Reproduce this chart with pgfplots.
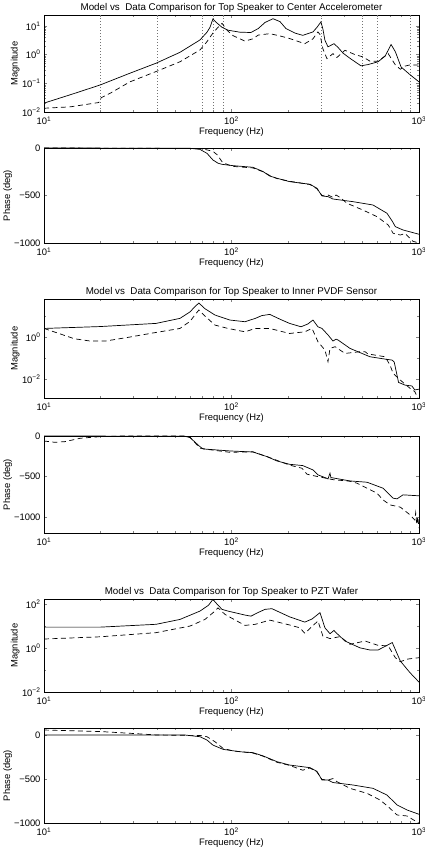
\documentclass[border=0pt]{standalone}
\usepackage{fontspec}
\setmainfont{Liberation Sans}
\usepackage{pgfplots}
\pgfplotsset{compat=1.18}

\begin{document}
\begin{tikzpicture}
\path[use as bounding box] (0,0) rectangle (425pt,848pt);

% ---------- Plot 1: magnitude, center accelerometer
\begin{axis}[scale only axis, width=375pt, height=97pt, anchor=south west, at={(44pt,736pt)},
  xmode=log, ymode=log, xmin=10, xmax=1000, ymin=0.01, ymax=24,
  xtick={10,100,1000},
  xticklabels={10\textsuperscript{1},10\textsuperscript{2},10\textsuperscript{3}},
  ytick={0.01,0.1,1,10},
  yticklabels={10\textsuperscript{−2},10\textsuperscript{−1},10\textsuperscript{0},10\textsuperscript{1}},
  xlabel={Frequency (Hz)}, ylabel={Magnitude},
  ylabel style={at={(axis description cs:-0.077,0.5)}, anchor=center},
  tick align=inside, major tick length=3pt, minor tick length=1.6pt,
  axis line style={line width=0.6pt},
  font=\fontsize{9.4}{11}\selectfont,
  title style={font=\fontsize{9.8}{11}\selectfont, yshift=-7pt},
  xticklabel style={yshift=-1pt}, xlabel style={yshift=4pt},
  title={Model vs\ \ Data Comparison for Top Speaker to Center Accelerometer},
]
\addplot[black!55, dash pattern=on 0.6pt off 2.4pt, line width=0.5pt, forget plot] coordinates {(20,0.01) (20,24)};
\addplot[black!55, dash pattern=on 0.6pt off 2.4pt, line width=0.5pt, forget plot] coordinates {(40,0.01) (40,24)};
\addplot[black!55, dash pattern=on 0.6pt off 2.4pt, line width=0.5pt, forget plot] coordinates {(70,0.01) (70,24)};
\addplot[black!55, dash pattern=on 0.6pt off 2.4pt, line width=0.5pt, forget plot] coordinates {(80,0.01) (80,24)};
\addplot[black!55, dash pattern=on 0.6pt off 2.4pt, line width=0.5pt, forget plot] coordinates {(90,0.01) (90,24)};
\addplot[black!55, dash pattern=on 0.6pt off 2.4pt, line width=0.5pt, forget plot] coordinates {(300,0.01) (300,24)};
\addplot[black!55, dash pattern=on 0.6pt off 2.4pt, line width=0.5pt, forget plot] coordinates {(500,0.01) (500,24)};
\addplot[black!55, dash pattern=on 0.6pt off 2.4pt, line width=0.5pt, forget plot] coordinates {(600,0.01) (600,24)};
\addplot[black!55, dash pattern=on 0.6pt off 2.4pt, line width=0.5pt, forget plot] coordinates {(900,0.01) (900,24)};
\addplot[black, line width=0.7pt] table {
10    0.0204
13.8  0.0398
19.9  0.0871
28.7  0.224
39.6  0.501
53.1  1.20
67.9  3.24
74.0  6.03
76.8  8.91
79.6  17.4
83.7  12.6
89.0  8.91
95.8  7.08
111   6.03
127   5.89
139   8.13
151   13.2
166.5 17.8
181.4 14.1
195   8.13
218   5.62
240   4.68
272   6.17
285.6 8.91
300   13.8
307   7.94
315   3.16
327   1.86
352   2.40
370   1.78
393.6 1.12
428.6 0.741
490   0.407
533   0.447
605   0.562
660   0.891
710   2.24
748   1.26
802   0.372
895   0.200
1000  0.112
};
\addplot[black, line width=0.7pt, dash pattern=on 5pt off 3.5pt] table {
10    0.0135
13.8  0.0151
19.6  0.0214
20.2  0.0316
22.5  0.0447
28.7  0.112
39.6  0.257
53.1  0.562
67.9  1.45
74.0  2.82
79.6  5.62
84.7  8.91
89.0  12.3
94.6  7.08
101.9 4.57
118   2.95
130   3.55
139   4.79
160   5.37
181.4 4.47
204   3.63
246   2.40
272   3.55
289   6.17
296.5 5.01
307   1.62
322.8 0.724
347.7 1.08
365   0.794
402.9 1.41
455.6 1.0
502   0.832
547.7 0.589
605   0.589
685   1.08
748   0.437
795   0.309
843   0.398
895   0.437
1000  0.437
};
\end{axis}

% ---------- Plot 2: phase, center accelerometer
\begin{axis}[scale only axis, width=375pt, height=95pt, anchor=south west, at={(44pt,605pt)},
  xmode=log, xmin=10, xmax=1000, ymin=-1000, ymax=0,
  xtick={10,100,1000},
  xticklabels={10\textsuperscript{1},10\textsuperscript{2},10\textsuperscript{3}},
  ytick={-1000,-500,0}, yticklabels={−1000,−500,0},
  xlabel={Frequency (Hz)}, ylabel={Phase (deg)},
  ylabel style={at={(axis description cs:-0.097,0.5)}, anchor=center},
  tick align=inside, major tick length=3pt, minor tick length=1.6pt,
  axis line style={line width=0.6pt},
  font=\fontsize{9.4}{11}\selectfont,
  xticklabel style={yshift=-1pt}, xlabel style={yshift=4pt},
]
\addplot[black, line width=0.7pt] table {
10    0
60.1  -3
67.9  -15
74.0  -56
79.6  -126
84.7  -160
89.0  -172
101.9 -186
130   -203
147.3 -248
160   -295
174.9 -319
204   -354
262.4 -382
285.6 -424
303.8 -505
327.1 -512
347.7 -537
444.5 -565
568.2 -600
674.9 -687
720   -770
748   -828
821.8 -863
1000  -908
};
\addplot[black, line width=0.7pt, dash pattern=on 5pt off 3.5pt] table {
10    0
67.9  -5
74.0  -20
79.6  -35
83.7  -70
89.0  -144
94.6  -172
101.9 -194
130   -210
147.3 -250
160   -290
174.9 -322
204   -350
262.4 -385
285.6 -430
303.8 -500
327.1 -495
347.7 -520
360.9 -495
379.4 -520
413   -582
502   -653
597.3 -723
685   -810
728   -898
795   -916
843   -900
928.6 -982
1000  -1000
};
\end{axis}

% ---------- Plot 3: magnitude, inner PVDF
\begin{axis}[scale only axis, width=375pt, height=99pt, anchor=south west, at={(44pt,450pt)},
  xmode=log, ymode=log, xmin=10, xmax=1000, ymin=0.00125, ymax=65,
  xtick={10,100,1000},
  xticklabels={10\textsuperscript{1},10\textsuperscript{2},10\textsuperscript{3}},
  ytick={0.01,1}, minor ytick={0.001,0.1,10},
  yticklabels={10\textsuperscript{−2},10\textsuperscript{0}},
  xlabel={Frequency (Hz)}, ylabel={Magnitude},
  ylabel style={at={(axis description cs:-0.077,0.5)}, anchor=center},
  tick align=inside, major tick length=3pt, minor tick length=1.6pt,
  axis line style={line width=0.6pt},
  font=\fontsize{9.4}{11}\selectfont,
  title style={font=\fontsize{9.8}{11}\selectfont, yshift=-7pt},
  xticklabel style={yshift=-1pt}, xlabel style={yshift=4pt},
  title={Model vs\ \ Data Comparison for Top Speaker to Inner PVDF Sensor},
]
\addplot[black, line width=0.7pt] table {
10    2.57
19.9  3.16
39.6  4.47
53.1  7.76
60.1  15.8
63.8  28.2
67.0  41.7
72.2  22.4
81.6  11.2
98.0  6.46
118   5.37
134   7.76
145   10.5
160   12.0
181.4 7.08
204   4.47
234.9 3.09
255   4.17
272   6.46
289   3.09
303.8 2.57
327.1 1.26
347.7 0.646
360.9 0.794
370   0.724
428.6 0.288
547.7 0.115
660   0.0891
720   0.0794
738   0.0631
778   0.00692
843   0.00513
916   0.00468
950   0.00302
1000  0.00331
};
\addplot[black, line width=0.7pt, dash pattern=on 5pt off 3.5pt] table {
10    2.57
12.2  1.41
14.5  0.832
17.6  0.646
21.3  0.646
28.7  1.0
39.6  1.66
53.1  2.57
60.1  5.62
63.8  11.2
67.0  19.5
72.2  10.0
81.6  3.72
95.8  2.57
118   1.78
134   2.57
160   2.57
204   1.48
246   1.78
268.8 2.57
289   0.603
315   0.240
327.1 0.0676
335.2 0.288
357   0.347
402.9 0.166
484.3 0.200
516   0.200
533   0.158
660   0.115
700   0.0468
728   0.0186
795   0.00891
895   0.00363
950   0.00251
985   0.00126
};
\end{axis}

% ---------- Plot 4: phase, inner PVDF
\begin{axis}[scale only axis, width=375pt, height=97pt, anchor=south west, at={(44pt,315pt)},
  xmode=log, xmin=10, xmax=1000, ymin=-1200, ymax=0,
  xtick={10,100,1000},
  xticklabels={10\textsuperscript{1},10\textsuperscript{2},10\textsuperscript{3}},
  ytick={-1000,-500,0}, yticklabels={−1000,−500,0},
  xlabel={Frequency (Hz)}, ylabel={Phase (deg)},
  ylabel style={at={(axis description cs:-0.097,0.5)}, anchor=center},
  tick align=inside, major tick length=3pt, minor tick length=1.6pt,
  axis line style={line width=0.6pt},
  font=\fontsize{9.4}{11}\selectfont,
  xticklabel style={yshift=-1pt}, xlabel style={yshift=4pt},
]
\addplot[black, line width=0.7pt] table {
10    0
56.5  -3
60.1  -20
67.9  -132
70.5  -160
83.7  -173
98.0  -185
130   -198
154.6 -255
174.9 -309
204   -350
240   -366
272   -420
289   -481
315   -514
327.1 -531
335.2 -460
339   -514
428.6 -556
528.3 -572
642.7 -646
728   -769
763.6 -778
821.8 -728
1000  -740
};
\addplot[black, line width=0.7pt, dash pattern=on 5pt off 3.5pt] table {
10    -62
11.4  -78
12.9  -70
15.6  -28
19.9  -8
25.4  0
56.5  0
60.1  -15
67.9  -150
74.0  -165
98.0  -202
130   -195
154.6 -255
204   -360
237.6 -399
252.8 -473
285.6 -500
315   -520
347.7 -540
428.6 -560
466.9 -584
528.3 -646
597.3 -708
642.7 -790
700   -852
795   -880
895   -975
950   -1040
960   -950
974   -1100
985   -1000
1000  -1140
};
\end{axis}

% ---------- Plot 5: magnitude, PZT wafer
\begin{axis}[scale only axis, width=375pt, height=93pt, anchor=south west, at={(44pt,156pt)},
  xmode=log, ymode=log, xmin=10, xmax=1000, ymin=0.01, ymax=170,
  xtick={10,100,1000},
  xticklabels={10\textsuperscript{1},10\textsuperscript{2},10\textsuperscript{3}},
  ytick={0.01,1,100}, minor ytick={0.1,10},
  yticklabels={10\textsuperscript{−2},10\textsuperscript{0},10\textsuperscript{2}},
  xlabel={Frequency (Hz)}, ylabel={Magnitude},
  ylabel style={at={(axis description cs:-0.077,0.5)}, anchor=center},
  tick align=inside, major tick length=3pt, minor tick length=1.6pt,
  axis line style={line width=0.6pt},
  font=\fontsize{9.4}{11}\selectfont,
  title style={font=\fontsize{9.8}{11}\selectfont, yshift=-7pt},
  xticklabel style={yshift=-1pt}, xlabel style={yshift=4pt},
  title={Model vs\ \ Data Comparison for Top Speaker to PZT Wafer},
]
\addplot[black, line width=0.7pt] table {
10    8.91
19.9  8.91
39.6  12.0
53.1  20.0
67.9  47.9
75.5  89.1
79.6  162
83.7  100
89.0  57.5
95.8  47.9
118   31.6
127   28.2
139   41.7
151   57.5
164.3 61.7
181.4 41.7
204   26.3
246   15.1
268.8 20.9
296.5 40.7
315   8.32
335.2 4.47
352   6.31
360.9 5.01
402.9 2.09
484.3 1.02
547.7 0.813
605   0.813
685   1.41
720   1.78
795   0.257
895   0.0759
1000  0.0282
};
\addplot[black, line width=0.7pt, dash pattern=on 5pt off 3.5pt] table {
10    2.57
19.9  3.24
39.6  5.01
60.1  10
72.2  20
81.6  47.9
84.7  67.6
92.3  33.9
95.8  28.2
118   10.7
134   12.0
160   18.6
204   11.2
231.5 8.32
246   4.68
289   17.0
307   3.55
335.2 2.69
379.4 3.31
428.6 1.48
516   2.09
605   1.32
685   1.26
748   0.363
795   0.240
873.5 0.316
1000  0.363
};
\end{axis}

% ---------- Plot 6: phase, PZT wafer
\begin{axis}[scale only axis, width=375pt, height=95pt, anchor=south west, at={(44pt,25pt)},
  xmode=log, xmin=10, xmax=1000, ymin=-1000, ymax=80,
  xtick={10,100,1000},
  xticklabels={10\textsuperscript{1},10\textsuperscript{2},10\textsuperscript{3}},
  ytick={-1000,-500,0}, yticklabels={−1000,−500,0},
  xlabel={Frequency (Hz)}, ylabel={Phase (deg)},
  ylabel style={at={(axis description cs:-0.097,0.5)}, anchor=center},
  tick align=inside, major tick length=3pt, minor tick length=1.6pt,
  axis line style={line width=0.6pt},
  font=\fontsize{9.4}{11}\selectfont,
  xticklabel style={yshift=-1pt}, xlabel style={yshift=4pt},
]
\addplot[black, line width=0.7pt] table {
10    0
56.5  0
67.9  -19
74.0  -57
79.6  -114
90.2  -163
111   -190
130   -200
147.3 -237
174.9 -303
204   -341
262.4 -371
285.6 -413
303.8 -511
327.1 -511
347.7 -540
444.5 -568
568.2 -606
674.9 -682
763.6 -795
863   -852
1000  -901
};
\addplot[black, line width=0.7pt, dash pattern=on 5pt off 3.5pt] table {
10    57
19.9  40
28.7  20
40.2  0
67.9  -5
74.0  -19
81.6  -76
90.2  -152
101.9 -180
130   -205
147.3 -240
174.9 -310
204   -345
240   -400
262.4 -375
285.6 -420
303.8 -505
327.1 -511
347.7 -495
365   -530
428.6 -606
528.3 -663
620   -739
685   -814
763.6 -909
863   -920
1000  -1003
};
\end{axis}
\end{tikzpicture}
\end{document}
